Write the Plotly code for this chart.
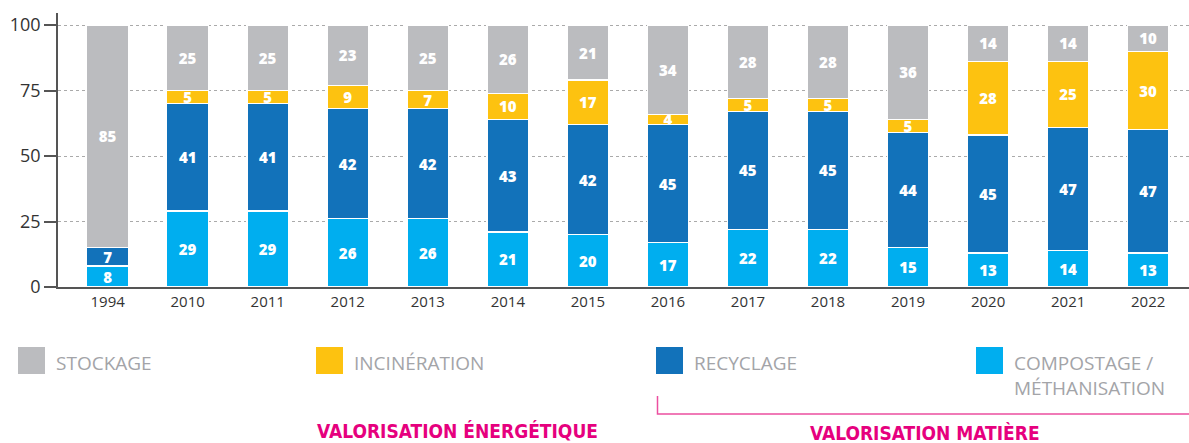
import plotly.graph_objects as go

years = ["1994", "2010", "2011", "2012", "2013", "2014", "2015", "2016", "2017", "2018", "2019", "2020", "2021", "2022"]
compostage = [8, 29, 29, 26, 26, 21, 20, 17, 22, 22, 15, 13, 14, 13]
recyclage = [7, 41, 41, 42, 42, 43, 42, 45, 45, 45, 44, 45, 47, 47]
incineration = [0, 5, 5, 9, 7, 10, 17, 4, 5, 5, 5, 28, 25, 30]
stockage = [85, 25, 25, 23, 25, 26, 21, 34, 28, 28, 36, 14, 14, 10]

series = [
    ("COMPOSTAGE /<br>MÉTHANISATION", compostage, "#00AEEF"),
    ("RECYCLAGE", recyclage, "#1272BA"),
    ("INCINÉRATION", incineration, "#FDC210"),
    ("STOCKAGE", stockage, "#BBBCBF"),
]

fig = go.Figure()
for name, vals, col in series:
    fig.add_trace(go.Bar(
        x=years, y=vals, name=name,
        marker=dict(color=col, line=dict(color="white", width=1.2)),
        text=[str(v) if v else "" for v in vals],
        textposition="inside", insidetextanchor="middle", textangle=0,
        textfont=dict(color="white", size=15, family="Open Sans", weight=800),
        showlegend=False, hoverinfo="skip",
    ))

W0, W1 = 58, 1189
Y0, Y1 = 287, 13
def px(x):
    return (x - W0) / (W1 - W0)
def py(y):
    return (Y0 - y) / (Y0 - Y1)

shapes = []
annotations = []
legend_items = [("STOCKAGE", "#BBBCBF", 18), ("INCINÉRATION", "#FDC210", 316),
                ("RECYCLAGE", "#1272BA", 656), ("COMPOSTAGE /<br>MÉTHANISATION", "#00AEEF", 976)]
for label, col, x in legend_items:
    shapes.append(dict(type="rect", xref="paper", yref="paper",
                       x0=px(x), x1=px(x + 27), y0=py(374), y1=py(347),
                       fillcolor=col, line=dict(width=0)))
    annotations.append(dict(xref="paper", yref="paper", x=px(x + 36), y=py(348),
                            xanchor="left", yanchor="top", align="left", showarrow=False,
                            text=label, font=dict(family="Open Sans", size=19, color="#A3A4A8")))

shapes.append(dict(type="path", xref="paper", yref="paper",
                   path=f"M {px(657.5)},{py(396)} L {px(657.5)},{py(414)} L {px(1189)},{py(414)}",
                   line=dict(color="#EC4FA0", width=1.5)))
annotations.append(dict(xref="paper", yref="paper", x=px(457), y=py(431), xanchor="center", yanchor="middle",
                        showarrow=False, text="<b>VALORISATION ÉNERGÉTIQUE</b>",
                        font=dict(family="Liberation Sans Narrow, DejaVu Sans Condensed", size=19, color="#E6007E")))
annotations.append(dict(xref="paper", yref="paper", x=px(925), y=py(433), xanchor="center", yanchor="middle",
                        showarrow=False, text="<b>VALORISATION MATIÈRE</b>",
                        font=dict(family="Liberation Sans Narrow, DejaVu Sans Condensed", size=19, color="#E6007E")))

fig.update_layout(
    barmode="stack", bargap=0.48,
    width=1189, height=443,
    margin=dict(l=W0, r=0, t=Y1, b=443 - Y0),
    plot_bgcolor="white", paper_bgcolor="white",
    shapes=shapes, annotations=annotations,
    uniformtext=dict(minsize=15, mode="show"),
    xaxis=dict(type="category", range=[-0.62, 13.51], showline=True, linecolor="#555", linewidth=1.5,
               ticks="", tickfont=dict(family="Open Sans", size=15, color="#333"), showgrid=False),
    yaxis=dict(range=[0, 104.6], tickvals=[0, 25, 50, 75, 100], showline=True, linecolor="#555", linewidth=1.5,
               ticks="outside", ticklen=12, tickcolor="#555", tickwidth=1.5,
               tickfont=dict(family="Open Sans", size=18, color="#333"),
               showgrid=True, gridcolor="#AAAAAA", griddash="dot", gridwidth=1, zeroline=False),
)

fig.write_html("out.html", config={"displayModeBar": False},
               post_script="document.body.style.margin='0';document.body.style.overflow='hidden';")
